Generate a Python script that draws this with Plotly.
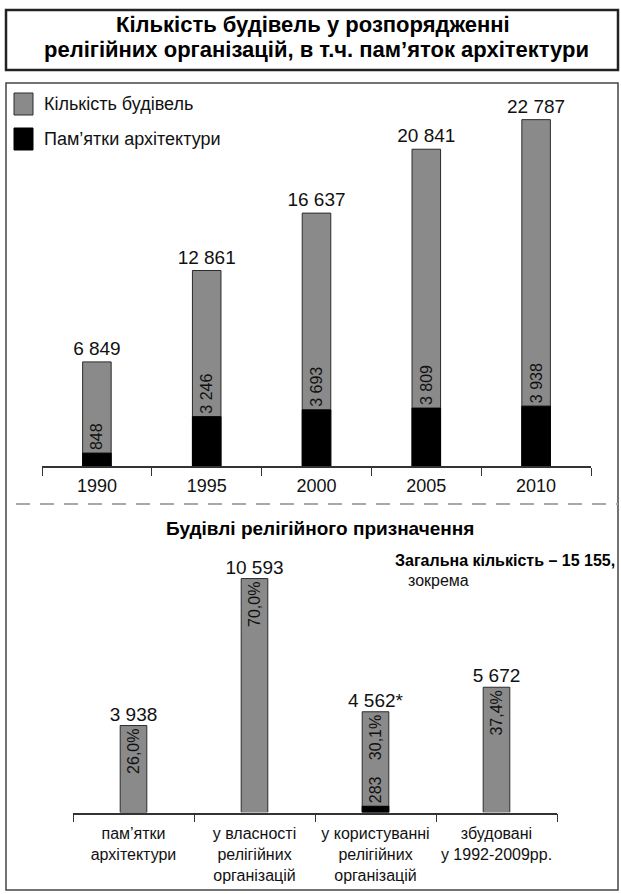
import plotly.graph_objects as go

# --- data -------------------------------------------------------------------
years = ["1990", "1995", "2000", "2005", "2010"]
buildings_total = [6849, 12861, 16637, 20841, 22787]
architecture_monuments = [848, 3246, 3693, 3809, 3938]

religious_categories = [
    "пам’ятки<br>архітектури",
    "у власності<br>релігійних<br>організацій",
    "у користуванні<br>релігійних<br>організацій",
    "збудовані<br>у 1992-2009рр.",
]
religious_counts = [3938, 10593, 4562, 5672]
religious_count_marks = ["", "", "*", ""]
religious_shares = [26.0, 70.0, 30.1, 37.4]
in_use_monuments_category = ["у користуванні<br>релігійних<br>організацій"]
in_use_monuments = [283]

W, H = 621, 894
NARROW = "Liberation Sans Narrow, Arial Narrow, Liberation Sans, Arial, sans-serif"
BOLD = "Liberation Sans, Arial, sans-serif"
GRAY = "#8a8a8a"
EDGE = "#2b2b2b"
INK = "#111111"


def px_x(v):
    return v / W


def px_y(v):
    return 1 - v / H


def spaced(n):
    return f"{n:,}".replace(",", " ")


def pct(v):
    return f"{v:.1f}%".replace(".", ",")


fig = go.Figure()

# top chart: totals with monuments overlaid
fig.add_trace(go.Bar(x=years, y=buildings_total, width=0.26, marker=dict(color=GRAY, line=dict(color=EDGE, width=1)),
                     text=[spaced(v) for v in buildings_total], textposition="outside", textangle=0,
                     textfont=dict(family=NARROW, size=19, color=INK), constraintext="none", cliponaxis=False,
                     name="Кількість будівель", xaxis="x", yaxis="y"))
fig.add_trace(go.Bar(x=years, y=architecture_monuments, width=0.26, marker=dict(color="#000000", line=dict(color="#000000", width=1)),
                     text=[spaced(v) for v in architecture_monuments], textposition="outside", textangle=-90,
                     textfont=dict(family=NARROW, size=16, color=INK), constraintext="none", cliponaxis=False,
                     name="Пам’ятки архітектури", xaxis="x", yaxis="y"))

# bottom chart: religious buildings
fig.add_trace(go.Bar(x=religious_categories, y=religious_counts, width=0.22, marker=dict(color=GRAY, line=dict(color=EDGE, width=1)),
                     text=[pct(v) for v in religious_shares], textposition="inside", insidetextanchor="end", textangle=-90,
                     textfont=dict(family=NARROW, size=16, color=INK), constraintext="none",
                     xaxis="x2", yaxis="y2"))
fig.add_trace(go.Bar(x=in_use_monuments_category, y=in_use_monuments, width=0.22, marker=dict(color="#000000", line=dict(color="#000000", width=1)),
                     text=[spaced(v) for v in in_use_monuments], textposition="outside", textangle=-90,
                     textfont=dict(family=NARROW, size=16, color=INK), constraintext="none", cliponaxis=False,
                     xaxis="x2", yaxis="y2"))
fig.add_trace(go.Scatter(x=religious_categories, y=religious_counts, mode="text",
                         text=[spaced(v) + m for v, m in zip(religious_counts, religious_count_marks)],
                         textposition="top center", textfont=dict(family=NARROW, size=19, color=INK),
                         cliponaxis=False, hoverinfo="skip", xaxis="x2", yaxis="y2"))

axis_common = dict(type="category", tickson="boundaries", ticks="outside", ticklen=8, tickwidth=1.2, tickcolor="#333",
                   showline=True, linecolor="#333", linewidth=1.5, showgrid=False, zeroline=False, fixedrange=True,
                   tickangle=0, automargin=False)

fig.update_layout(
    width=W, height=H, margin=dict(l=0, r=0, t=0, b=0, autoexpand=False),
    paper_bgcolor="white", plot_bgcolor="rgba(0,0,0,0)",
    barmode="overlay", showlegend=False,
    xaxis=dict(domain=[px_x(42), px_x(591)], anchor="y", tickfont=dict(family=NARROW, size=18, color=INK),
               ticklabelstandoff=3, **axis_common),
    yaxis=dict(domain=[px_y(466), px_y(86)], range=[0, 25000], visible=False, fixedrange=True),
    xaxis2=dict(domain=[px_x(73), px_x(557)], anchor="y2", tickfont=dict(family=NARROW, size=16, color=INK),
                ticklabelstandoff=6, **axis_common),
    yaxis2=dict(domain=[px_y(812.5), px_y(547.5)], range=[0, 12000], visible=False, fixedrange=True),
)

shapes = [
    # title box
    dict(type="rect", xref="paper", yref="paper", x0=px_x(6), x1=px_x(618), y0=px_y(70), y1=px_y(10),
         line=dict(color="#222", width=2.5)),
    # main frame
    dict(type="rect", xref="paper", yref="paper", x0=px_x(6), x1=px_x(618), y0=px_y(890), y1=px_y(83),
         line=dict(color="#444", width=1.5)),
    # separator
    dict(type="line", xref="paper", yref="paper", x0=px_x(16), x1=px_x(618), y0=px_y(504), y1=px_y(504),
         line=dict(color="#aaaaaa", width=2, dash="14px,10px")),
    # legend swatches
    dict(type="rect", xref="paper", yref="paper", x0=px_x(14), x1=px_x(33), y0=px_y(115), y1=px_y(93),
         fillcolor=GRAY, line=dict(color=EDGE, width=1)),
    dict(type="rect", xref="paper", yref="paper", x0=px_x(14), x1=px_x(33), y0=px_y(150), y1=px_y(128),
         fillcolor="#000000", line=dict(color="#000000", width=1)),
]

annotations = [
    dict(text="<b>Кількість будівель у розпорядженні</b>", x=px_x(313), y=px_y(25), xanchor="center", yanchor="middle",
         font=dict(family=BOLD, size=22, color="#000")),
    dict(text="<b>релігійних організацій, в т.ч. пам’яток архітектури</b>", x=px_x(316), y=px_y(49),
         xanchor="center", yanchor="middle", font=dict(family=BOLD, size=22, color="#000")),
    dict(text="Кількість будівель", x=px_x(42), y=px_y(104.5), xanchor="left", yanchor="middle",
         font=dict(family=NARROW, size=18, color=INK)),
    dict(text="Пам’ятки архітектури", x=px_x(42), y=px_y(138.5), xanchor="left", yanchor="middle",
         font=dict(family=NARROW, size=18, color=INK)),
    dict(text="<b>Будівлі релігійного призначення</b>", x=px_x(320), y=px_y(528), xanchor="center", yanchor="middle",
         font=dict(family=BOLD, size=19, color="#000")),
    dict(text="<b>Загальна кількість – 15 155,</b>", x=px_x(393), y=px_y(560), xanchor="left", yanchor="middle",
         font=dict(family=NARROW, size=16, color="#000")),
    dict(text="зокрема", x=px_x(406), y=px_y(580), xanchor="left", yanchor="middle",
         font=dict(family=NARROW, size=16, color=INK)),
]
for a in annotations:
    a.update(xref="paper", yref="paper", showarrow=False)

fig.update_layout(shapes=shapes, annotations=annotations)

fig.write_html("out.html", config={"displayModeBar": False},
               post_script="document.body.style.margin='0px';")
